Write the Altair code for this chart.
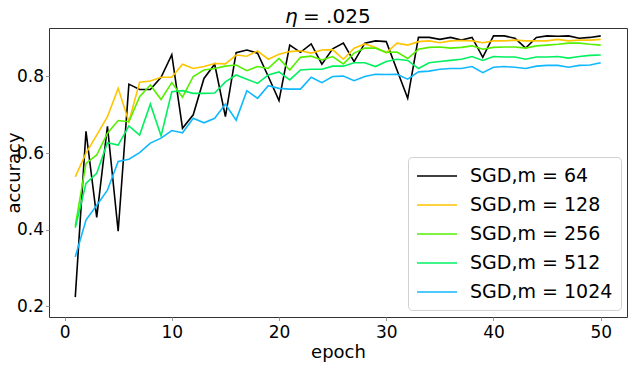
import altair as alt
import pandas as pd

epochs = list(range(1, 51))
labels = ["SGD,m = 64", "SGD,m = 128", "SGD,m = 256", "SGD,m = 512", "SGD,m = 1024"]
colors = ["#000000", "#FFC400", "#55F000", "#00F060", "#10B8FF"]

acc_64 = [0.224, 0.657, 0.432, 0.670, 0.396, 0.780, 0.766, 0.766, 0.798, 0.857,
          0.665, 0.700, 0.795, 0.832, 0.695, 0.862, 0.869, 0.861, 0.800, 0.737,
          0.882, 0.863, 0.885, 0.832, 0.872, 0.887, 0.839, 0.887, 0.893, 0.891,
          0.817, 0.743, 0.902, 0.902, 0.897, 0.902, 0.895, 0.902, 0.850, 0.906,
          0.906, 0.900, 0.874, 0.902, 0.906, 0.905, 0.906, 0.900, 0.902, 0.906]
acc_128 = [0.538, 0.600, 0.647, 0.695, 0.769, 0.682, 0.785, 0.788, 0.798, 0.798,
           0.832, 0.821, 0.826, 0.834, 0.833, 0.856, 0.853, 0.867, 0.845, 0.858,
           0.865, 0.867, 0.861, 0.869, 0.870, 0.845, 0.874, 0.885, 0.876, 0.862,
           0.887, 0.882, 0.891, 0.893, 0.888, 0.893, 0.894, 0.893, 0.888, 0.893,
           0.893, 0.895, 0.893, 0.893, 0.893, 0.897, 0.893, 0.895, 0.895, 0.897]
acc_256 = [0.410, 0.573, 0.595, 0.652, 0.685, 0.682, 0.747, 0.778, 0.740, 0.784,
           0.746, 0.800, 0.817, 0.821, 0.827, 0.830, 0.815, 0.826, 0.821, 0.847,
           0.817, 0.850, 0.853, 0.843, 0.852, 0.833, 0.861, 0.874, 0.874, 0.863,
           0.864, 0.847, 0.871, 0.876, 0.877, 0.874, 0.876, 0.880, 0.871, 0.876,
           0.877, 0.877, 0.874, 0.880, 0.882, 0.884, 0.887, 0.887, 0.884, 0.882]
acc_512 = [0.405, 0.521, 0.547, 0.627, 0.621, 0.671, 0.647, 0.728, 0.645, 0.760,
           0.763, 0.756, 0.756, 0.757, 0.786, 0.804, 0.793, 0.782, 0.804, 0.812,
           0.791, 0.817, 0.819, 0.819, 0.827, 0.827, 0.836, 0.836, 0.826, 0.839,
           0.845, 0.842, 0.821, 0.836, 0.839, 0.842, 0.845, 0.852, 0.842, 0.852,
           0.851, 0.851, 0.845, 0.851, 0.851, 0.852, 0.848, 0.852, 0.855, 0.856]
acc_1024 = [0.329, 0.425, 0.464, 0.503, 0.578, 0.584, 0.601, 0.626, 0.639, 0.659,
            0.653, 0.691, 0.679, 0.691, 0.728, 0.686, 0.763, 0.743, 0.776, 0.769,
            0.767, 0.767, 0.798, 0.784, 0.800, 0.801, 0.789, 0.800, 0.806, 0.805,
            0.806, 0.793, 0.812, 0.814, 0.819, 0.821, 0.821, 0.826, 0.810, 0.824,
            0.826, 0.824, 0.821, 0.827, 0.829, 0.829, 0.824, 0.829, 0.830, 0.836]

x_ticks = [0, 10, 20, 30, 40, 50]
y_ticks = [0.2, 0.4, 0.6, 0.8]
title_parts = ["η", "= .025"]

series = [acc_64, acc_128, acc_256, acc_512, acc_1024]
rows = []
for i, (lab, vals) in enumerate(zip(labels, series)):
    for e, v in zip(epochs, vals):
        rows.append({"series": lab, "epoch": e, "acc": v, "k": i})
df = pd.DataFrame(rows)

FONT = "DejaVu Sans"

lines = alt.Chart(df).mark_line(strokeWidth=1.6).encode(
    x=alt.X("epoch:Q",
            scale=alt.Scale(domain=[-1.45, 52.45], nice=False, zero=False),
            axis=alt.Axis(values=x_ticks, title="epoch", format="d",
                          labelPadding=4, titlePadding=3)),
    y=alt.Y("acc:Q",
            scale=alt.Scale(domain=[0.172, 0.9266], nice=False, zero=False),
            axis=alt.Axis(values=y_ticks, title="accuracy", format=".1f",
                          titleX=-35, titleY=144.5, titleBaseline="middle",
                          titleAlign="center", titleAngle=270)),
    color=alt.Color("series:N",
                    scale=alt.Scale(domain=labels, range=colors),
                    legend=alt.Legend(
                        title=None, orient="none", legendX=359, legendY=129,
                        symbolType="M-1,0H3", symbolSize=400, symbolStrokeWidth=1.6,
                        labelFontSize=19, labelFont=FONT, labelColor="#000",
                        labelOffset=32, rowPadding=8, padding=8,
                        fillColor="white", strokeColor="#d0d0d0", cornerRadius=4)),
    order=alt.Order("k:Q"),
)

eta = alt.Chart(pd.DataFrame({"t": [title_parts[0]]})).mark_text(
    font=FONT, fontSize=20, fontStyle="italic", align="left", baseline="alphabetic",
    color="#000"
).encode(text="t:N", x=alt.value(236), y=alt.value(-5))

rest = alt.Chart(pd.DataFrame({"t": [title_parts[1]]})).mark_text(
    font=FONT, fontSize=20, align="left", baseline="alphabetic", color="#000"
).encode(text="t:N", x=alt.value(254), y=alt.value(-5))

chart = alt.layer(lines, eta, rest).properties(
    width=578, height=289,
    autosize="none",
    padding={"left": 41, "top": 20, "right": 5, "bottom": 46},
).configure_view(
    stroke="#333", strokeWidth=1
).configure_axis(
    labelFont=FONT, labelFontSize=17, labelColor="#000",
    titleFont=FONT, titleFontSize=18, titleFontWeight="normal", titleColor="#000",
    domain=False, grid=False, tickColor="#999", tickSize=3.5, labelPadding=2,
    titlePadding=3,
)

chart.save("out.html", embed_options={"renderer": "svg", "actions": False})
